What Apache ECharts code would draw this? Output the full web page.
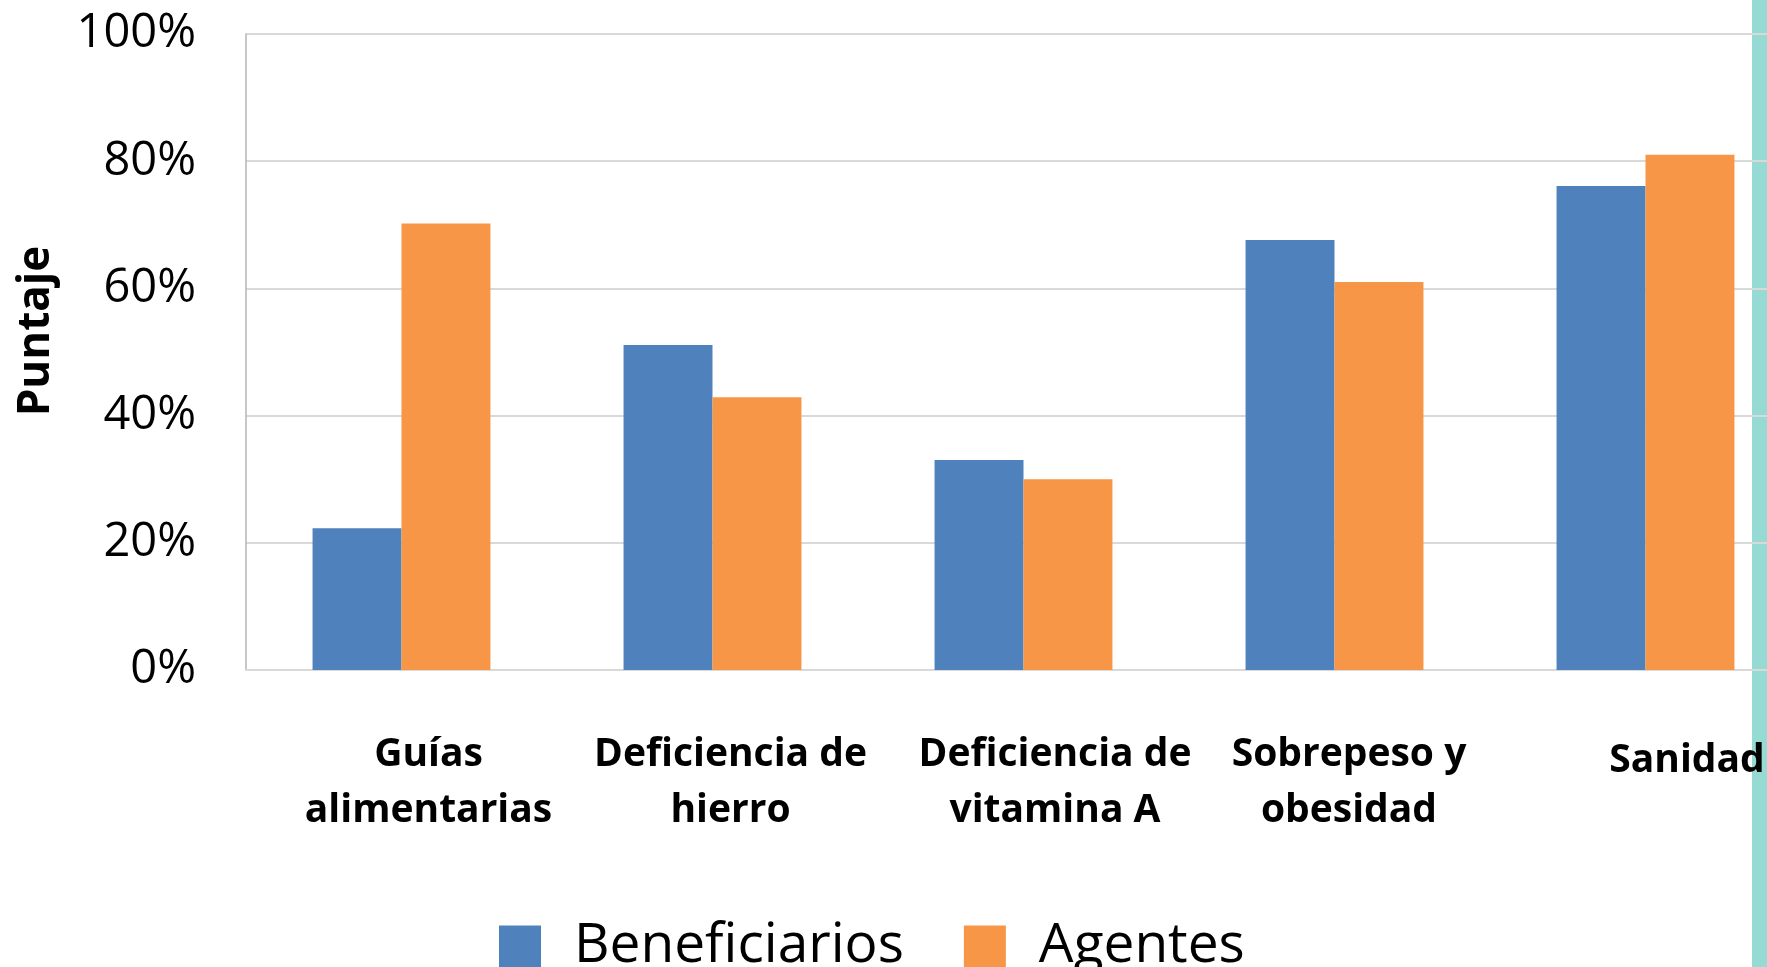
<!DOCTYPE html>
<html>
<head>
<meta charset="utf-8">
<script src="https://cdn.jsdelivr.net/npm/echarts@6/dist/echarts.min.js"></script>
<style>
  html, body { margin: 0; padding: 0; overflow: hidden; background: #fff; }
  #main { width: 1810px; height: 967px; }
</style>
</head>
<body>
<div id="main"></div>
<script>
// categorias y valores (fracciones)
const categorias = ['Guías\nalimentarias', 'Deficiencia de\nhierro', 'Deficiencia de\nvitamina A', 'Sobrepeso y\nobesidad', 'Sanidad']
const beneficiarios = [0.223, 0.511, 0.330, 0.676, 0.761]
const agentes = [0.702, 0.429, 0.300, 0.610, 0.810]
const seriesNames = ['Beneficiarios', 'Agentes']

const myChart = echarts.init(document.getElementById('main'))

// las etiquetas del eje x van algo corridas a la derecha, como en el original
const labelPad = [[0, 0, 0, 54], [0, 0, 0, 36], [0, 0, 0, 63], [0, 0, 0, 29], [6, 0, 0, 83]]
const xData = categorias.map((c, i) => ({ value: c, textStyle: { padding: labelPad[i] } }))

const option = {
  animation: false,
  color: ['#4f81bd', '#f79646'],
  textStyle: { fontFamily: 'Open Sans' },
  grid: {
    left: 246,
    top: 34,
    width: 1555,
    bottom: 297,
    outerBoundsMode: 'none'
  },
  legend: {
    data: seriesNames,
    left: 494,
    top: 914,
    itemWidth: 42,
    itemHeight: 42,
    itemGap: 60,
    icon: 'rect',
    textStyle: { fontSize: 55, color: '#000', fontFamily: 'Open Sans', padding: [0, 0, 0, 28] }
  },
  xAxis: {
    type: 'category',
    data: xData,
    axisTick: { show: false },
    axisLine: { lineStyle: { color: '#d9d9d9', width: 2 } },
    axisLabel: {
      interval: 0,
      margin: 57,
      color: '#000',
      fontWeight: 'bold',
      fontSize: 39,
      lineHeight: 56,
      verticalAlign: 'top'
    }
  },
  yAxis: {
    type: 'value',
    min: 0,
    max: 1,
    interval: 0.2,
    name: 'Puntaje',
    nameLocation: 'middle',
    nameGap: 188,
    nameTextStyle: { fontSize: 44, fontWeight: 'bold', color: '#000', padding: [0, 0, 0, 42] },
    axisLine: { show: true, lineStyle: { color: '#b4b4b4', width: 1.5 } },
    axisTick: { show: false },
    splitLine: { lineStyle: { color: '#d9d9d9', width: 2 } },
    axisLabel: {
      margin: 50,
      fontSize: 47,
      color: '#000',
      formatter: v => Math.round(v * 100) + '%'
    }
  },
  // franja turquesa del borde derecho, por debajo de lineas y textos
  graphic: [{
    type: 'rect',
    left: 1752,
    top: 0,
    z: -10,
    shape: { width: 15, height: 967 },
    style: { fill: '#95dbd3' }
  }],
  series: [
    {
      name: seriesNames[0],
      type: 'bar',
      data: beneficiarios,
      barGap: '0%',
      barCategoryGap: '42.8%'
    },
    {
      name: seriesNames[1],
      type: 'bar',
      data: agentes
    }
  ]
}

myChart.setOption(option)
</script>
</body>
</html>
